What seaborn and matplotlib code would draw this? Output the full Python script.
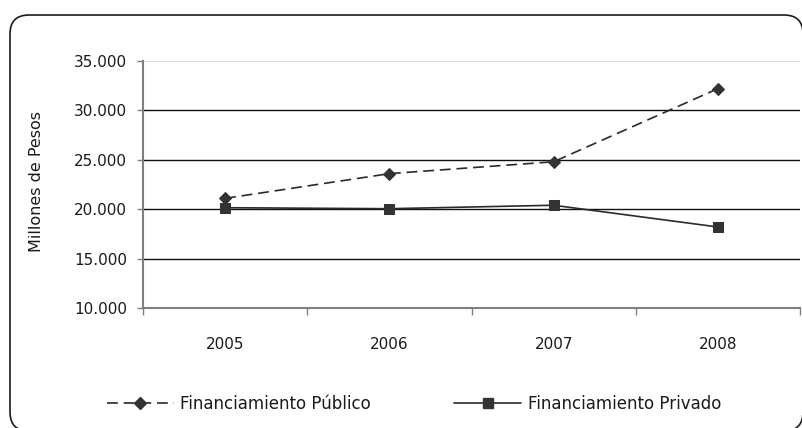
import matplotlib
matplotlib.use("Agg")
import matplotlib.pyplot as plt
import seaborn as sns
import pandas as pd
from matplotlib.patches import FancyBboxPatch
from matplotlib.lines import Line2D
from matplotlib.transforms import IdentityTransform
from matplotlib.ticker import FixedLocator, FuncFormatter

years = ["2005", "2006", "2007", "2008"]
publico = [21100, 23600, 24800, 32200]
privado = [20150, 20050, 20400, 18200]
series_names = ["Financiamiento Público", "Financiamiento Privado"]
y_ticks = [10000, 15000, 20000, 25000, 30000, 35000]

df = pd.DataFrame({
    "Año": years * 2,
    "Valor": publico + privado,
    "Serie": [series_names[0]] * 4 + [series_names[1]] * 4,
})

sns.set_theme(style="white")
plt.rcParams["font.family"] = ["DejaVu Sans"]

W, H = 802, 428
fig = plt.figure(figsize=(W / 100, H / 100), dpi=100)
ax = fig.add_axes([143 / W, 1 - 308 / H, (800 - 143) / W, (308 - 61) / H])

line_col = "#2a2a2a"
mark_col = "#333333"
dash = (6.5, 3.5)
sns.lineplot(
    data=df, x="Año", y="Valor", hue="Serie", style="Serie",
    palette=[line_col, line_col],
    dashes={series_names[0]: dash, series_names[1]: ""},
    markers={series_names[0]: "D", series_names[1]: "s"},
    markersize=7, linewidth=1.2, ax=ax, legend=False, sort=False,
)
for ln in ax.lines:
    ln.set_markeredgecolor(mark_col)
    ln.set_markerfacecolor(mark_col)
ax.lines[0].set_markersize(6.5)

ax.set_xlim(-0.5, 3.5)
ax.set_ylim(10000, 35000)
ax.yaxis.set_major_locator(FixedLocator(y_ticks))
ax.yaxis.set_major_formatter(FuncFormatter(lambda v, p: f"{int(v):,}".replace(",", ".")))

# horizontal grid lines
for v in y_ticks[1:]:
    ax.axhline(v, color="#dddddd" if v == 35000 else "#111111", lw=1.0, zorder=0)

for side in ["top", "right"]:
    ax.spines[side].set_visible(False)
for side in ["left", "bottom"]:
    ax.spines[side].set_color("#808080")
    ax.spines[side].set_linewidth(1.5)

ax.set_xlabel("")
ax.set_ylabel("Millones de Pesos", fontsize=11.5, color="#1a1a1a", va="center")
ax.yaxis.set_label_coords((37 - 143) / 657, (308 - 182) / 247)
ax.tick_params(axis="y", length=4.3, width=1, color="#808080", direction="out",
               labelsize=11, labelcolor="#1a1a1a", pad=7, left=True)
ax.tick_params(axis="x", which="major", length=0, labelsize=11,
               labelcolor="#1a1a1a", pad=21)
ax.xaxis.set_minor_locator(FixedLocator([-0.5, 0.5, 1.5, 2.5, 3.5]))
ax.tick_params(axis="x", which="minor", length=5, width=1, color="#808080",
               direction="out", bottom=True)

# legend
handles = [
    Line2D([], [], color=line_col, lw=1.2, dashes=dash, marker="D",
           markersize=6.5, markerfacecolor=mark_col, markeredgecolor=mark_col),
    Line2D([], [], color=line_col, lw=1.2, marker="s", markersize=7,
           markerfacecolor=mark_col, markeredgecolor=mark_col),
]
fig.legend(handles, series_names, loc="center", bbox_to_anchor=(414 / W, 1 - 404 / H),
           ncol=2, frameon=False, fontsize=12, handlelength=4.0, columnspacing=5.0,
           handletextpad=0.4, labelcolor="#1a1a1a")

# rounded frame around the chart (pixel coordinates)
frame = FancyBboxPatch((10, -3), 793, 416,
                       boxstyle="round,pad=0,rounding_size=19",
                       transform=IdentityTransform(), fill=False,
                       edgecolor="#1a1a1a", lw=1.2, clip_on=False)
fig.patches.append(frame)

fig.savefig("out.png", dpi=100)
